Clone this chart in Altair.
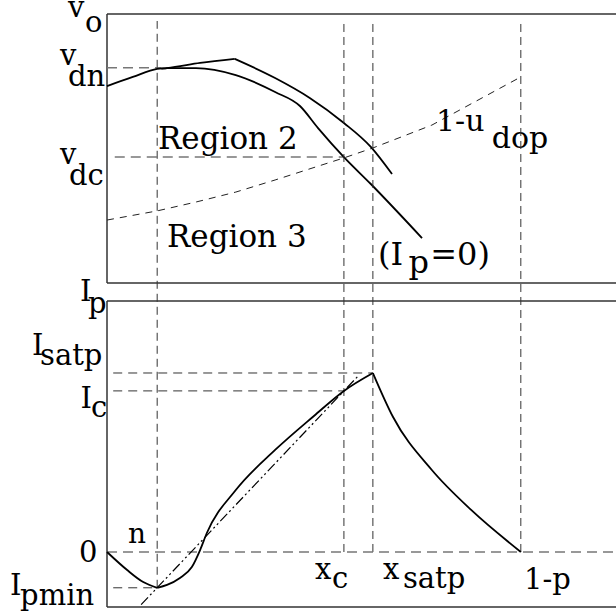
import altair as alt
import pandas as pd

FONT = "DejaVu Serif"

# ---- horizontal axis (fraction of the period, p = 0.2) ----
X_MAX = 0.984
N_X = 0.097
XC = 0.458
XSATP = 0.514
ONE_MINUS_P = 0.8

# ---- top panel: output voltage, frame spans v = 0 .. 1 ----
V_DN = 0.8
V_DC = 0.468
TOP_DOMAIN = [-1.2045, 1.0]

# curve with I_p flowing: rises to the saturation corner, then falls
va_rise_x = [0.0, 0.050, 0.097, 0.116, 0.180, 0.247]
va_rise_y = [0.732, 0.766, 0.796, 0.799, 0.818, 0.833]
va_fall_x = [0.247, 0.325, 0.392, 0.458, 0.510, 0.551]
va_fall_y = [0.833, 0.762, 0.688, 0.595, 0.506, 0.405]

# curve for I_p = 0
vb_x = [0.105, 0.116, 0.172, 0.249, 0.325, 0.373, 0.408, 0.458, 0.510, 0.609]
vb_y = [0.797, 0.799, 0.799, 0.773, 0.710, 0.658, 0.576, 0.468, 0.368, 0.167]

# boundary 1 - u_dop
ud_x = [0.0, 0.097, 0.172, 0.249, 0.325, 0.458, 0.514, 0.628, 0.8]
ud_y = [0.234, 0.268, 0.301, 0.338, 0.383, 0.465, 0.502, 0.587, 0.766]

# ---- bottom panel: current I_p, I_satp = 1 ----
I_SATP = 1.0
I_C = 0.9
I_PMIN = -0.2
BOT_FRAME = [-0.307, 1.402]
BOT_DOMAIN = [-0.3073, 3.0056]

ip_fall_x = [0.0, 0.039, 0.070, 0.097]
ip_fall_y = [0.0, -0.101, -0.168, -0.2]
ip_rise_x = [0.097, 0.116, 0.141, 0.164, 0.180, 0.193, 0.249, 0.325, 0.400, 0.458, 0.514]
ip_rise_y = [-0.2, -0.184, -0.145, -0.084, 0.011, 0.106, 0.346, 0.570, 0.760, 0.9, 1.0]
ip_decay_x = [0.514, 0.553, 0.628, 0.704, 0.8]
ip_decay_y = [1.0, 0.754, 0.458, 0.235, 0.0]

# linear approximation through (n, I_pmin) and (x_c, I_c)
dd_x = [0.066, 0.485]
dd_y = [-0.294, 0.982]

# ---- labels (main symbol, subscript) ----
top_text = ["v", "o", "v", "dn", "v", "dc", "Region 2", "Region 3",
            "1-u", "dop", "(I", "p", "=0)"]
top_tx = [-0.0754, -0.0425, -0.0909, -0.0754, -0.0909, -0.0735, 0.0986, 0.116,
          0.636, 0.744, 0.524, 0.583, 0.625]
top_ty = [0.989, 0.933, 0.810, 0.732, 0.442, 0.364, 0.498, 0.134,
          0.565, 0.502, 0.067, 0.037, 0.067]
top_fs = [29, 29, 29, 29, 29, 29, 31, 31, 30, 30, 32, 32, 32]

bot_text = ["I", "p", "I", "satp", "I", "c", "0", "I", "pmin", "n",
            "x", "c", "x", "satp", "1-p"]
bot_tx = [-0.0522, -0.0367, -0.145, -0.1295, -0.0512, -0.0309, -0.0541, -0.1875, -0.168, 0.0406,
          0.402, 0.435, 0.5335, 0.572, 0.806]
bot_ty = [1.402, 1.335, 1.101, 1.045, 0.804, 0.754, -0.056, -0.240, -0.296, 0.050,
          -0.151, -0.201, -0.151, -0.201, -0.207]
bot_fs = [29, 29, 29, 29, 29, 29, 29, 29, 29, 28, 29, 29, 29, 29, 29]

xs = alt.Scale(domain=[0, X_MAX], nice=False, zero=False)
ys_top = alt.Scale(domain=TOP_DOMAIN, nice=False, zero=False)
ys_bot = alt.Scale(domain=BOT_DOMAIN, nice=False, zero=False)


def line(xv, yv, ys, **style):
    df = pd.DataFrame({"x": xv, "y": yv, "i": range(len(xv))})
    return alt.Chart(df).mark_line(**style).encode(
        x=alt.X("x:Q", scale=xs, axis=None),
        y=alt.Y("y:Q", scale=ys, axis=None),
        order="i:Q",
    )


def hrule(yv, x0, x1, ys, **style):
    df = pd.DataFrame({"y": [yv], "x0": [x0], "x1": [x1]})
    return alt.Chart(df).mark_rule(**style).encode(
        x=alt.X("x0:Q", scale=xs, axis=None),
        x2="x1:Q",
        y=alt.Y("y:Q", scale=ys, axis=None),
    )


def vrule(xv, y0, y1, ys, **style):
    df = pd.DataFrame({"x": [xv], "y0": [y0], "y1": [y1]})
    return alt.Chart(df).mark_rule(**style).encode(
        x=alt.X("x:Q", scale=xs, axis=None),
        y=alt.Y("y0:Q", scale=ys, axis=None),
        y2="y1:Q",
    )


def labels(text, tx, ty, fs, ys):
    df = pd.DataFrame({"t": text, "x": tx, "y": ty, "fs": fs})
    return alt.Chart(df).mark_text(
        font=FONT, align="left", baseline="alphabetic", color="black"
    ).encode(
        x=alt.X("x:Q", scale=xs, axis=None),
        y=alt.Y("y:Q", scale=ys, axis=None),
        text="t:N",
        size=alt.Size("fs:Q", scale=None),
    )


frame_style = dict(color="#333333", strokeWidth=1.5)
curve_style = dict(color="black", strokeWidth=1.8)
grey_dash = dict(color="#777777", strokeWidth=1.5, strokeDash=[10, 6])
dark_dash = dict(color="#333333", strokeWidth=1, strokeDash=[8, 5])

# ---------- top panel ----------
top = alt.layer(
    hrule(1.0, 0, X_MAX, ys_top, **frame_style),
    hrule(0.0, 0, X_MAX, ys_top, **frame_style),
    vrule(0.0, 0.0, 1.0, ys_top, **frame_style),
    hrule(V_DN, 0.0, 0.105, ys_top, **grey_dash),
    hrule(V_DC, 0.015, XC, ys_top, **grey_dash),
    line(ud_x, ud_y, ys_top, color="#222222", strokeWidth=1, strokeDash=[7, 6]),
    line(va_rise_x, va_rise_y, ys_top, interpolate="monotone", **curve_style),
    line(va_fall_x, va_fall_y, ys_top, interpolate="monotone", **curve_style),
    line(vb_x, vb_y, ys_top, interpolate="monotone", **curve_style),
    labels(top_text, top_tx, top_ty, top_fs, ys_top),
)

# ---------- bottom panel ----------
guide_x = [N_X, XC, XSATP, ONE_MINUS_P]
guide_base = [I_PMIN, 0.0, 0.0, 0.0]
guides_df = pd.DataFrame({"x": guide_x, "y0": guide_base})
guides = alt.Chart(guides_df).mark_rule(**dark_dash).encode(
    x=alt.X("x:Q", scale=xs, axis=None),
    y=alt.Y("y0:Q", scale=ys_bot, axis=None),
    y2=alt.value(7),
)

bottom = alt.layer(
    hrule(BOT_FRAME[1], 0, X_MAX, ys_bot, **frame_style),
    hrule(BOT_FRAME[0], 0, X_MAX, ys_bot, **frame_style),
    vrule(0.0, BOT_FRAME[0], BOT_FRAME[1], ys_bot, **frame_style),
    guides,
    hrule(0.0, 0.0, X_MAX, ys_bot, **grey_dash),
    hrule(I_SATP, 0.012, XSATP, ys_bot, color="#333333", strokeWidth=1, strokeDash=[9, 6]),
    hrule(I_C, 0.012, XC, ys_bot, color="#333333", strokeWidth=1, strokeDash=[9, 6]),
    hrule(I_PMIN, 0.012, N_X, ys_bot, color="#333333", strokeWidth=1, strokeDash=[9, 6]),
    line(dd_x, dd_y, ys_bot, color="black", strokeWidth=1.2, strokeDash=[10, 3, 2, 3, 2, 3]),
    line(ip_fall_x, ip_fall_y, ys_bot, interpolate="monotone", **curve_style),
    line(ip_rise_x, ip_rise_y, ys_bot, interpolate="monotone", **curve_style),
    line(ip_decay_x, ip_decay_y, ys_bot, interpolate="monotone", **curve_style),
    labels(bot_text, bot_tx, bot_ty, bot_fs, ys_bot),
)

chart = (
    alt.layer(top, bottom)
    .resolve_scale(y="independent")
    .properties(
        width=509,
        height=593,
        autosize=alt.AutoSizeParams(type="none"),
        padding={"left": 107, "top": 14, "right": 0, "bottom": 7},
        background="white",
    )
    .configure_view(stroke=None)
)

chart.save("out.html", embed_options={"renderer": "svg", "actions": False})
